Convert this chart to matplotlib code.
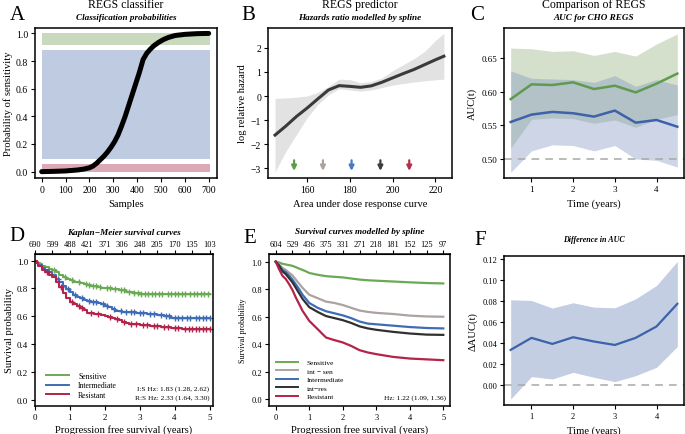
import matplotlib
matplotlib.use("Agg")
import matplotlib.pyplot as plt
import numpy as np
from matplotlib.lines import Line2D

plt.rcParams['font.family'] = ['Liberation Serif', 'DejaVu Serif']
plt.rcParams['mathtext.fontset'] = 'dejavuserif'

# ---------------- data ----------------
# Panel A
a_samples = [0, 50, 100, 150, 175, 200, 215, 230, 245, 260, 275, 290, 305, 320, 335, 350, 365, 380,
             395, 410, 425, 440, 455, 470, 490, 510, 530, 560, 600, 650, 700]
a_prob = [0.0, 0.002, 0.005, 0.012, 0.018, 0.028, 0.04, 0.06, 0.085, 0.11, 0.14, 0.175, 0.215, 0.265,
          0.33, 0.40, 0.48, 0.56, 0.64, 0.72, 0.81, 0.855, 0.885, 0.91, 0.935, 0.955, 0.97, 0.985,
          0.993, 0.998, 1.0]
a_bands = [(0.913, 1.0, '#c9d9bd'), (0.092, 0.877, '#bfcbe0'), (-0.005, 0.058, '#dcaab7')]

# Panel B
b_x = [145, 150, 155, 160, 165, 170, 175, 180, 185, 190, 195, 200, 205, 210, 215, 220, 224]
b_fit = [-1.62, -1.25, -0.85, -0.5, -0.12, 0.25, 0.43, 0.40, 0.36, 0.42, 0.57, 0.75, 0.93, 1.1, 1.3, 1.5, 1.65]
b_hi = [-0.1, -0.08, -0.05, 0.0, 0.15, 0.4, 0.7, 0.68, 0.55, 0.6, 0.75, 1.05, 1.3, 1.55, 1.85, 2.3, 2.6]
b_lo = [-3.15, -2.3, -1.6, -0.9, -0.35, 0.05, 0.3, 0.25, 0.2, 0.25, 0.35, 0.45, 0.52, 0.58, 0.63, 0.67, 0.7]
b_arrows = [153.9, 167.4, 180.8, 194.3, 207.8]
b_arrow_colors = ['#5e9c4c', '#aaa29d', '#4a7bc0', '#3d3d3d', '#b3304d']

# Panel C
c_t = [0.5, 1.0, 1.5, 2.0, 2.5, 3.0, 3.5, 4.0, 4.5]
c_green = [0.589, 0.611, 0.610, 0.614, 0.604, 0.609, 0.599, 0.612, 0.627]
c_green_hi = [0.665, 0.664, 0.660, 0.661, 0.654, 0.660, 0.653, 0.671, 0.686]
c_green_lo = [0.516, 0.559, 0.561, 0.560, 0.553, 0.558, 0.547, 0.559, 0.566]
c_blue = [0.555, 0.566, 0.570, 0.568, 0.563, 0.572, 0.554, 0.558, 0.548]
c_blue_hi = [0.631, 0.620, 0.619, 0.618, 0.614, 0.624, 0.608, 0.618, 0.610]
c_blue_lo = [0.480, 0.512, 0.521, 0.520, 0.512, 0.520, 0.500, 0.498, 0.488]

# Panel D (Kaplan-Meier)
d_risk_t = [0, 0.5, 1, 1.5, 2, 2.5, 3, 3.5, 4, 4.5, 5]
d_risk = ['690', '599', '488', '421', '371', '306', '248', '205', '170', '135', '103']
d_sen_t = [0, 0.05, 0.1, 0.15, 0.2, 0.3, 0.4, 0.5, 0.6, 0.7, 0.8, 0.9, 1.0, 1.1, 1.2, 1.3, 1.4, 1.5, 1.6, 1.7, 1.8, 1.9, 2.0, 2.2, 2.4, 2.6, 2.8, 3.0]
d_sen_s = [1.0, 0.99, 0.98, 0.975, 0.965, 0.955, 0.94, 0.93, 0.915, 0.9, 0.885, 0.87, 0.86, 0.85, 0.845, 0.84, 0.83, 0.825, 0.82, 0.815, 0.81, 0.805, 0.80, 0.795, 0.79, 0.775, 0.765, 0.76]
d_int_t = [0, 0.05, 0.1, 0.2, 0.3, 0.4, 0.5, 0.6, 0.7, 0.8, 0.9, 1.0, 1.1, 1.2, 1.3, 1.4, 1.5, 1.6, 1.7, 1.8, 1.9, 2.0, 2.1, 2.2, 2.3, 2.5, 2.7, 2.9, 3.2, 3.5, 3.7, 3.9]
d_int_s = [1.0, 0.985, 0.97, 0.95, 0.93, 0.915, 0.895, 0.87, 0.845, 0.82, 0.795, 0.772, 0.755, 0.74, 0.73, 0.715, 0.707, 0.703, 0.70, 0.695, 0.685, 0.675, 0.665, 0.65, 0.64, 0.632, 0.628, 0.623, 0.615, 0.61, 0.6, 0.59]
d_res_t = [0, 0.05, 0.1, 0.2, 0.3, 0.4, 0.5, 0.6, 0.7, 0.8, 0.9, 1.0, 1.1, 1.2, 1.3, 1.4, 1.5, 1.7, 1.9, 2.0, 2.1, 2.2, 2.3, 2.4, 2.5, 2.6, 2.7, 2.8, 3.0, 3.3, 3.6, 3.9, 4.2]
d_res_s = [1.0, 0.98, 0.96, 0.935, 0.915, 0.9, 0.88, 0.85, 0.81, 0.77, 0.735, 0.706, 0.69, 0.675, 0.66, 0.645, 0.627, 0.62, 0.612, 0.603, 0.595, 0.585, 0.578, 0.57, 0.562, 0.555, 0.548, 0.543, 0.536, 0.53, 0.522, 0.515, 0.507]
d_sen_c = [0.55, 0.85, 1.05, 1.25, 1.45, 1.55, 1.65, 1.75, 1.85, 2.05, 2.15, 2.3, 2.45, 2.55, 2.7, 2.85, 2.95, 3.05, 3.15, 3.25, 3.35, 3.45, 3.55, 3.65, 3.8, 3.9, 4.0, 4.1, 4.2, 4.3, 4.45, 4.55, 4.65, 4.75, 4.85, 4.95]
d_int_c = [0.65, 0.95, 1.15, 1.35, 1.55, 1.65, 1.75, 1.95, 2.05, 2.25, 2.45, 2.6, 2.75, 2.85, 3.0, 3.1, 3.3, 3.4, 3.6, 3.75, 3.85, 4.0, 4.1, 4.2, 4.35, 4.45, 4.6, 4.7, 4.8, 4.9, 5.0]
d_res_c = [0.35, 0.75, 1.05, 1.25, 1.35, 1.6, 1.8, 2.15, 2.35, 2.55, 2.75, 2.9, 3.1, 3.2, 3.4, 3.5, 3.7, 3.8, 4.0, 4.1, 4.3, 4.4, 4.5, 4.6, 4.7, 4.8, 4.9, 5.0]

# Panel E (spline survival)
e_risk_t = [0, 0.5, 1, 1.5, 2, 2.5, 3, 3.5, 4, 4.5, 5]
e_risk = ['604', '529', '436', '375', '331', '271', '218', '181', '152', '125', '97']
e_t = [0, 0.1, 0.2, 0.3, 0.4, 0.5, 0.6, 0.7, 0.8, 0.9, 1.0, 1.25, 1.5, 1.75, 2.0, 2.25, 2.5, 2.75, 3.0, 3.5, 4.0, 4.5, 5.0]
e_sen = [1.0, 0.995, 0.985, 0.98, 0.975, 0.97, 0.96, 0.95, 0.94, 0.93, 0.918, 0.905, 0.895, 0.89, 0.886, 0.878, 0.87, 0.865, 0.862, 0.856, 0.85, 0.845, 0.842]
e_intsen = [1.0, 0.98, 0.955, 0.94, 0.92, 0.9, 0.87, 0.84, 0.81, 0.785, 0.76, 0.735, 0.71, 0.70, 0.685, 0.665, 0.645, 0.635, 0.628, 0.62, 0.608, 0.602, 0.60]
e_int = [1.0, 0.975, 0.94, 0.925, 0.9, 0.87, 0.835, 0.80, 0.76, 0.73, 0.70, 0.665, 0.64, 0.625, 0.61, 0.59, 0.565, 0.55, 0.545, 0.535, 0.525, 0.518, 0.515]
e_intres = [1.0, 0.97, 0.93, 0.91, 0.88, 0.85, 0.81, 0.77, 0.73, 0.70, 0.67, 0.635, 0.605, 0.59, 0.575, 0.555, 0.53, 0.515, 0.505, 0.49, 0.478, 0.47, 0.468]
e_res = [1.0, 0.946, 0.898, 0.874, 0.837, 0.794, 0.74, 0.692, 0.643, 0.607, 0.57, 0.51, 0.449, 0.43, 0.413, 0.388, 0.357, 0.34, 0.328, 0.308, 0.296, 0.29, 0.284]

# Panel F
f_t = [0.5, 1.0, 1.5, 2.0, 2.5, 3.0, 3.5, 4.0, 4.5]
f_diff = [0.0333, 0.0448, 0.039, 0.0454, 0.0413, 0.038, 0.0448, 0.0557, 0.0774]
f_hi = [0.0813, 0.0806, 0.0733, 0.0784, 0.0742, 0.0736, 0.0822, 0.095, 0.118]
f_lo = [-0.0138, 0.0077, 0.0054, 0.0118, 0.007, 0.0029, 0.0086, 0.0166, 0.0365]

GREEN = '#6aaa55'
BLUE = '#3f6db5'
RED = '#b4234a'
GREY = '#aaa3a0'
BLACK = '#303030'

# ---------------- figure ----------------
W, H = 685, 435
fig = plt.figure(figsize=(W / 100, H / 100), dpi=100)


def box(x0, y0, x1, y1):
    return fig.add_axes([x0 / W, 1 - y1 / H, (x1 - x0) / W, (y1 - y0) / H])


def style(ax, fs=7):
    for s in ax.spines.values():
        s.set_linewidth(1.1)
    ax.tick_params(direction='out', length=3, width=0.8, labelsize=fs, pad=2)


def ftext(x, y, s, **kw):
    fig.text(x / W, 1 - y / H, s, ha='center', va='center', **kw)


TITLE_FS = 8.5
SUB_FS = 6.6
LAB_FS = 7.6
LET_FS = 15

# ---- A ----
axA = box(35, 29, 217, 179)
style(axA)
for lo, hi, col in a_bands:
    axA.fill_between([0, 705], [lo, lo], [hi, hi], color=col, lw=0)
axA.plot(a_samples, a_prob, color='black', lw=3.6, solid_capstyle='round', solid_joinstyle='round')
axA.set_xlim(-28, 735)
axA.set_ylim(-0.046, 1.039)
axA.set_xticks([0, 100, 200, 300, 400, 500, 600, 700])
axA.set_yticks([0.0, 0.2, 0.4, 0.6, 0.8, 1.0])
axA.set_yticklabels(['0.0', '0.2', '0.4', '0.6', '0.8', '1.0'])
axA.set_xlabel('Samples', fontsize=LAB_FS, labelpad=4)
axA.set_ylabel('Probability of sensitivity', fontsize=LAB_FS, labelpad=2)
ftext(126, 5, 'REGS classifier', fontsize=TITLE_FS)
ftext(126, 18, 'Classification probabilities', fontsize=SUB_FS, style='italic', weight='bold')
ftext(17, 15, 'A', fontsize=LET_FS)

# ---- B ----
axB = box(268, 29, 452, 179)
style(axB)
axB.fill_between(b_x, b_lo, b_hi, color='#e2e2e2', lw=0)
axB.plot(b_x, b_fit, color='#3a3a3a', lw=2.2)
for xa, ca in zip(b_arrows, b_arrow_colors):
    axB.annotate('', xy=(xa, -3.22), xytext=(xa, -2.55),
                 arrowprops=dict(arrowstyle='-|>', color=ca, lw=1.6, mutation_scale=7))
axB.set_xlim(141.7, 227.8)
axB.set_ylim(-3.4, 2.82)
axB.set_xticks([160, 180, 200, 220])
axB.set_yticks([-3, -2, -1, 0, 1, 2])
axB.set_yticklabels(['\u22123', '\u22122', '\u22121', '0', '1', '2'])
axB.set_xlabel('Area under dose response curve', fontsize=LAB_FS, labelpad=4)
axB.set_ylabel('log relative hazard', fontsize=LAB_FS, labelpad=3)
ftext(360, 5, 'REGS predictor', fontsize=TITLE_FS)
ftext(360, 18, 'Hazards ratio modelled by spline', fontsize=SUB_FS, style='italic', weight='bold')
ftext(248, 15, 'B', fontsize=LET_FS)

# ---- C ----
axC = box(504, 29, 684, 179)
style(axC, fs=6.5)
axC.fill_between(c_t, c_green_lo, c_green_hi, color='#8fb07a', alpha=0.38, lw=0)
axC.fill_between(c_t, c_blue_lo, c_blue_hi, color='#7e93c0', alpha=0.38, lw=0)
axC.axhline(0.5, color='#a8a8a8', lw=1.1, ls=(0, (5, 4)))
axC.plot(c_t, c_green, color='#5f9a4e', lw=1.8)
axC.plot(c_t, c_blue, color='#3c62aa', lw=1.8)
axC.set_xlim(0.34, 4.66)
axC.set_ylim(0.4717, 0.6948)
axC.set_xticks([1, 2, 3, 4])
axC.set_yticks([0.50, 0.55, 0.60, 0.65])
axC.set_yticklabels(['0.50', '0.55', '0.60', '0.65'])
axC.set_xlabel('Time (years)', fontsize=LAB_FS, labelpad=4)
axC.set_ylabel('AUC(t)', fontsize=LAB_FS, labelpad=3)
ftext(594, 5, 'Comparison of REGS', fontsize=TITLE_FS)
ftext(594, 18, 'AUC for CHO REGS', fontsize=SUB_FS, style='italic', weight='bold')
ftext(477, 16, 'C', fontsize=LET_FS)

# ---- D ----
axD = box(35, 255, 213, 407)
style(axD, fs=6.5)
for tt, ss, cc, cen in [(d_sen_t, d_sen_s, GREEN, d_sen_c),
                        (d_int_t, d_int_s, BLUE, d_int_c),
                        (d_res_t, d_res_s, RED, d_res_c)]:
    tx = list(tt) + [5.0]
    sx = list(ss) + [ss[-1]]
    axD.plot(tx, sx, drawstyle='steps-post', color=cc, lw=1.5)
    idx = np.searchsorted(tt, cen, side='right') - 1
    axD.plot(cen, np.array(ss)[idx], ls='none', marker='+', ms=4.5, mew=1.0, color=cc)
axD.set_xlim(0, 5.1)
axD.set_ylim(-0.045, 1.048)
axD.set_xticks([0, 1, 2, 3, 4, 5])
axD.set_yticks([0.0, 0.2, 0.4, 0.6, 0.8, 1.0])
axD.set_yticklabels(['0.0', '0.2', '0.4', '0.6', '0.8', '1.0'])
secD = axD.secondary_xaxis('top')
secD.set_xticks(d_risk_t, labels=d_risk)
secD.tick_params(direction='out', length=3, width=0.8, labelsize=6, pad=1.5)
axD.set_xlabel('Progression free survival (years)', fontsize=LAB_FS, labelpad=2)
axD.set_ylabel('Survival probability', fontsize=LAB_FS, labelpad=2)
hD = [Line2D([], [], color=GREEN, lw=1.4), Line2D([], [], color=BLUE, lw=1.4), Line2D([], [], color=RED, lw=1.4)]
axD.legend(hD, ['Sensitive', 'Intermediate', 'Resistant'], loc='lower left', frameon=False,
           fontsize=5.6, handlelength=3.0, handletextpad=1.2, labelspacing=0.2,
           bbox_to_anchor=(0.02, 0.0))
axD.text(0.98, 0.115, 'I:S Hz: 1.83 (1.28, 2.62)', transform=axD.transAxes, ha='right', va='center', fontsize=5.3)
axD.text(0.98, 0.06, 'R:S Hz: 2.33 (1.64, 3.30)', transform=axD.transAxes, ha='right', va='center', fontsize=5.3)
ftext(124, 233, 'Kaplan\u2212Meier survival curves', fontsize=SUB_FS, style='italic', weight='bold')
ftext(17, 237, 'D', fontsize=LET_FS)

# ---- E ----
axE = box(269, 255, 450, 407)
style(axE, fs=6)
for ys, cc in [(e_sen, GREEN), (e_intsen, GREY), (e_int, BLUE), (e_intres, BLACK), (e_res, RED)]:
    axE.plot(e_t, ys, color=cc, lw=1.6)
axE.set_xlim(-0.2, 5.2)
axE.set_ylim(-0.049, 1.056)
axE.set_xticks([0, 1, 2, 3, 4, 5])
axE.set_yticks([0.0, 0.2, 0.4, 0.6, 0.8, 1.0])
axE.set_yticklabels(['0.0', '0.2', '0.4', '0.6', '0.8', '1.0'])
secE = axE.secondary_xaxis('top')
secE.set_xticks(e_risk_t, labels=e_risk)
secE.tick_params(direction='out', length=3, width=0.8, labelsize=6, pad=1.5)
axE.set_xlabel('Progression free survival (years)', fontsize=LAB_FS, labelpad=2)
axE.set_ylabel('Survival probability', fontsize=5.8, labelpad=3)
hE = [Line2D([], [], color=c, lw=1.4) for c in [GREEN, GREY, BLUE, BLACK, RED]]
axE.legend(hE, ['Sensitive', 'int \u2212 sen', 'Intermediate', 'int\u2212res', 'Resistant'],
           loc='lower left', frameon=False, fontsize=5.3, handlelength=3.0, handletextpad=1.2,
           labelspacing=0.32, bbox_to_anchor=(0.0, 0.0))
axE.text(0.98, 0.06, 'Hz: 1.22 (1.09, 1.36)', transform=axE.transAxes, ha='right', va='center', fontsize=5.3)
ftext(360, 232, 'Survival curves modelled by spline', fontsize=SUB_FS, style='italic', weight='bold')
ftext(250, 239, 'E', fontsize=LET_FS)

# ---- F ----
axF = box(504, 257, 684, 406)
style(axF, fs=6)
axF.fill_between(f_t, f_lo, f_hi, color='#c3cee3', lw=0)
axF.axhline(0.0, color='#a8a8a8', lw=1.1, ls=(0, (5, 4)))
axF.plot(f_t, f_diff, color='#3c62aa', lw=1.6)
axF.set_xlim(0.34, 4.66)
axF.set_ylim(-0.0195, 0.1232)
axF.set_xticks([1, 2, 3, 4])
axF.set_yticks([0.0, 0.02, 0.04, 0.06, 0.08, 0.10, 0.12])
axF.set_yticklabels(['0.00', '0.02', '0.04', '0.06', '0.08', '0.10', '0.12'])
axF.set_xlabel('Time (years)', fontsize=LAB_FS, labelpad=4)
axF.set_ylabel('\u0394AUC(t)', fontsize=LAB_FS, labelpad=3)
ftext(594, 240, 'Difference in AUC', fontsize=5.8, style='italic', weight='bold')
ftext(480, 241, 'F', fontsize=LET_FS)

fig.savefig('out.png', dpi=100)
